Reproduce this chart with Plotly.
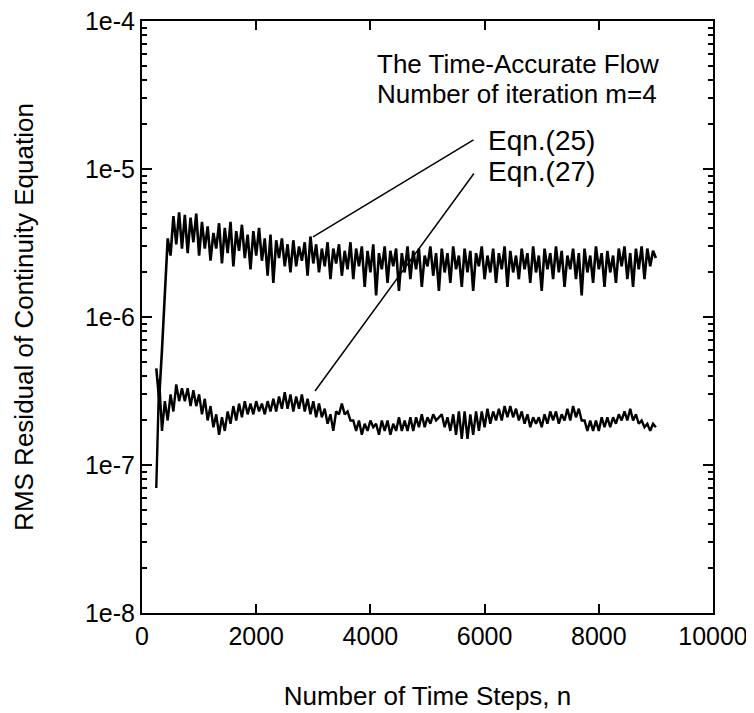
import plotly.graph_objects as go

# time-step grid of the sampled residual history
steps = list(range(250, 9001, 50))

# RMS residual, Eqn.(25)  (units of 1e-6)
eqn25 = [
    0.45, 0.28, 0.6, 1.6, 3.4, 2.6, 4.8, 3.1, 5.1, 2.9,
    4.9, 2.7, 4.7, 3.2, 5.0, 2.6, 4.4, 2.9, 4.1, 2.4,
    3.7, 2.9, 4.3, 2.3, 4.0, 2.7, 4.4, 2.2, 3.8, 2.8,
    4.2, 2.5, 3.6, 2.1, 3.8, 2.6, 4.0, 2.4, 3.4, 1.9,
    3.6, 1.7, 3.3, 2.5, 3.4, 2.2, 3.1, 2.0, 3.3, 2.2,
    3.0, 2.4, 3.2, 1.9, 3.5, 2.3, 3.1, 2.0, 2.9, 2.2,
    3.2, 1.8, 2.9, 2.3, 3.1, 1.9, 2.8, 2.1, 3.2, 1.8,
    2.9, 2.2, 3.0, 1.6, 2.8, 2.0, 3.1, 1.4, 2.7, 2.1,
    3.0, 1.7, 2.8, 2.2, 2.9, 1.5, 2.7, 2.0, 3.0, 1.8,
    2.8, 2.1, 2.9, 1.6, 2.6, 2.2, 3.0, 1.9, 2.7, 1.5,
    2.9, 2.0, 2.7, 1.7, 3.0, 2.1, 2.6, 1.6, 2.9, 2.0,
    2.8, 1.5, 2.7, 2.2, 3.0, 1.8, 2.6, 2.0, 2.9, 1.7,
    2.7, 2.1, 3.0, 1.6, 2.8, 2.0, 2.6, 1.8, 2.9, 2.1,
    2.7, 1.7, 3.0, 2.0, 2.6, 1.5, 2.9, 2.1, 2.7, 1.8,
    3.0, 2.0, 2.8, 1.6, 2.6, 2.1, 2.9, 1.8, 2.7, 1.4,
    2.9, 2.0, 2.6, 1.7, 3.0, 2.1, 2.7, 1.6, 2.8, 2.0,
    2.6, 1.7, 2.9, 2.2, 3.0, 1.8, 2.7, 1.6, 2.9, 2.1,
    3.0, 1.8, 2.9, 2.2, 2.8, 2.5,
]

# RMS residual, Eqn.(27)  (units of 1e-7)
eqn27 = [
    0.7, 3.8, 1.7, 2.7, 2.0, 3.0, 2.3, 3.5, 2.7, 3.3,
    2.7, 3.3, 2.5, 3.2, 2.5, 3.0, 2.2, 2.8, 2.0, 2.5,
    1.8, 2.2, 1.6, 2.1, 1.7, 2.3, 1.9, 2.5, 2.0, 2.6,
    2.1, 2.7, 2.2, 2.6, 2.2, 2.7, 2.3, 2.6, 2.2, 2.7,
    2.3, 2.8, 2.3, 2.9, 2.4, 3.1, 2.4, 3.0, 2.3, 2.9,
    2.4, 3.0, 2.3, 2.8, 2.2, 2.7, 2.1, 2.6, 2.1, 2.4,
    1.9, 2.2, 1.7, 2.3, 2.2, 2.6, 2.2, 2.3, 2.0, 2.0,
    1.7, 2.0, 1.6, 1.9, 1.7, 2.0, 1.8, 1.9, 1.6, 2.0,
    1.7, 2.0, 1.6, 1.9, 1.7, 2.1, 1.7, 2.0, 1.7, 2.1,
    1.7, 2.1, 1.8, 2.2, 1.8, 2.1, 1.9, 2.2, 2.0, 2.1,
    2.2, 1.8, 2.1, 1.7, 2.2, 1.6, 2.3, 1.5, 2.3, 1.5,
    2.2, 1.6, 2.3, 1.7, 2.3, 1.8, 2.4, 1.9, 2.3, 2.0,
    2.4, 2.0, 2.5, 2.1, 2.5, 2.1, 2.4, 2.0, 2.3, 1.9,
    2.2, 1.8, 2.1, 1.9, 2.1, 1.8, 2.2, 1.9, 2.3, 2.0,
    2.3, 1.9, 2.2, 2.0, 2.4, 2.0, 2.5, 2.1, 2.4, 2.0,
    2.0, 1.7, 2.0, 1.7, 2.0, 1.7, 2.1, 1.8, 2.1, 1.8,
    2.1, 1.9, 2.2, 2.0, 2.3, 2.0, 2.4, 2.0, 2.2, 1.9,
    2.0, 1.8, 1.9, 1.7, 1.9, 1.8,
]

ytick_vals = [1e-8, 1e-7, 1e-6, 1e-5, 1e-4]
ytick_text = ["1e-8", "1e-7", "1e-6", "1e-5", "1e-4"]

FONT = "Liberation Sans, Arial, Helvetica, sans-serif"

fig = go.Figure()
fig.add_trace(go.Scatter(
    x=steps, y=[v * 1e-6 for v in eqn25], mode="lines",
    line=dict(color="black", width=2.6), name="Eqn.(25)",
))
fig.add_trace(go.Scatter(
    x=steps, y=[v * 1e-7 for v in eqn27], mode="lines",
    line=dict(color="black", width=2.4), name="Eqn.(27)",
))

axis_common = dict(
    showline=True, linecolor="black", linewidth=2, mirror="allticks",
    ticks="inside", tickcolor="black", showgrid=False, zeroline=False,
    automargin=False, ticklabeloverflow="allow",
    tickfont=dict(family=FONT, size=25, color="black"),
)
fig.update_xaxes(
    range=[0, 10000], dtick=2000, tickformat="d", ticklen=9, tickwidth=1.5,
    title=dict(text="Number of Time Steps, n", standoff=38,
               font=dict(family=FONT, size=26, color="black")),
    **axis_common,
)
fig.update_yaxes(
    type="log", range=[-8, -4], tickvals=ytick_vals, ticktext=ytick_text,
    ticklen=10, tickwidth=1.5, ticklabelstandoff=0,
    minor=dict(ticks="inside", ticklen=5, tickcolor="black", dtick="D1"),
    title=dict(text="RMS Residual of Continuity Equation", standoff=44,
               font=dict(family=FONT, size=26, color="black")),
    **axis_common,
)

annotations = [
    dict(x=4081, y=-4.29, text="The Time-Accurate Flow", size=26),
    dict(x=4081, y=-4.49, text="Number of iteration m=4", size=26),
    dict(x=6025, y=-4.81, text="Eqn.(25)", size=28),
    dict(x=6025, y=-5.02, text="Eqn.(27)", size=28),
]
for a in annotations:
    fig.add_annotation(xref="x", yref="y", showarrow=False, xanchor="left",
                       x=a["x"], y=a["y"], text=a["text"],
                       font=dict(family=FONT, size=a["size"], color="black"))

# leader lines from the labels to the curves
for head, tail in [((2995, -5.458), (5832, -4.797)), ((3030, -6.50), (5832, -5.02))]:
    fig.add_annotation(
        xref="x", yref="y", axref="x", ayref="y",
        x=head[0], y=head[1], ax=tail[0], ay=tail[1], text="",
        showarrow=True, arrowhead=0, arrowwidth=1.5, arrowcolor="black",
        standoff=0, startstandoff=0,
    )

# the page body adds an 8 px offset, so the figure is sized to fit the window
fig.update_layout(
    template="none",
    width=746, height=705, showlegend=False,
    margin=dict(l=134, r=41, t=13, b=100),
    paper_bgcolor="white", plot_bgcolor="white",
    font=dict(family=FONT, color="black"),
)

fig.write_html("out.html")
